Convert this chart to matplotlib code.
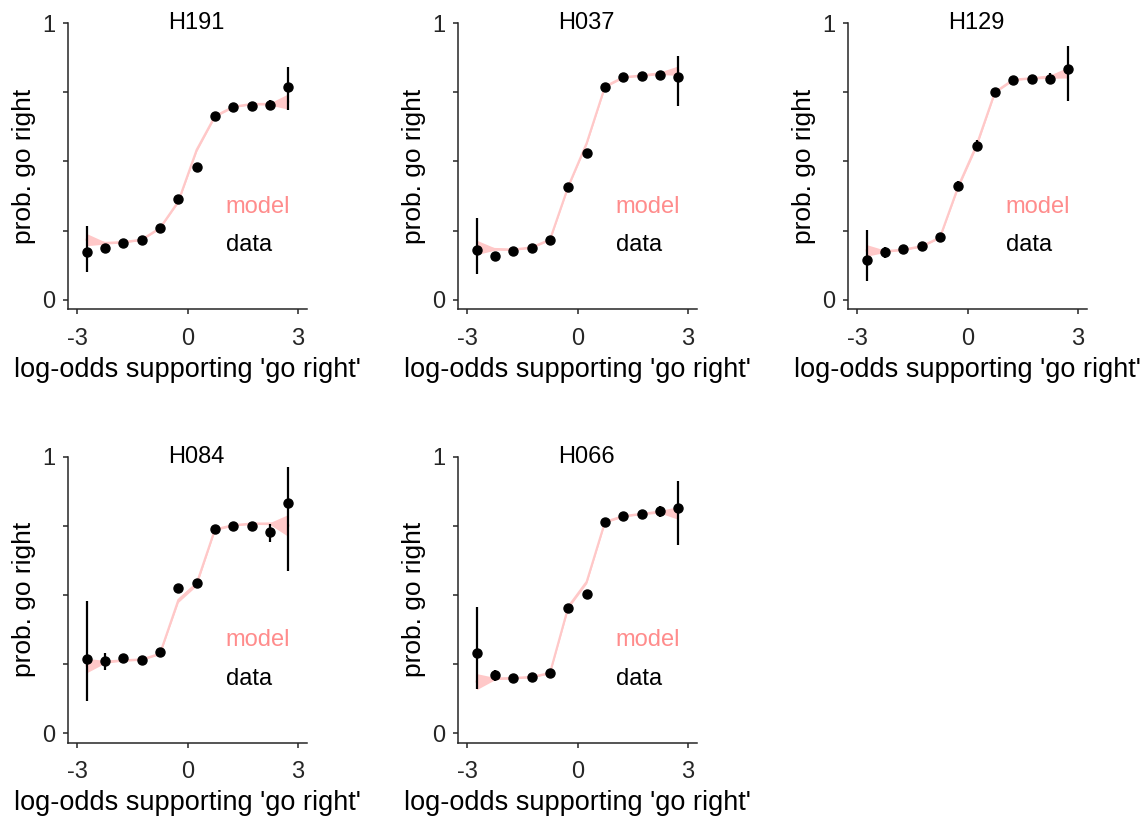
import matplotlib
matplotlib.use("Agg")
import matplotlib.pyplot as plt
import numpy as np

plt.rcParams['font.family'] = ['Liberation Sans', 'DejaVu Sans']

x = [-2.75, -2.25, -1.75, -1.25, -0.75, -0.25, 0.25, 0.75, 1.25, 1.75, 2.25, 2.75]
subjects = ["H191", "H037", "H129", "H084", "H066"]

# data (mean, lower err, upper err)
h191_data = [0.171, 0.187, 0.206, 0.216, 0.259, 0.363, 0.481, 0.664, 0.698, 0.702, 0.706, 0.771]
h191_lo = [0.071, 0.015, 0.008, 0.008, 0.008, 0.012, 0.015, 0.008, 0.008, 0.008, 0.018, 0.084]
h191_hi = [0.094, 0.015, 0.008, 0.008, 0.008, 0.012, 0.015, 0.008, 0.008, 0.008, 0.018, 0.072]
h191_model = [0.217, 0.205, 0.208, 0.217, 0.259, 0.355, 0.542, 0.664, 0.698, 0.708, 0.708, 0.717]
h191_band = [0.022, 0.004, 0.003, 0.003, 0.003, 0.004, 0.006, 0.004, 0.003, 0.003, 0.004, 0.028]

h037_data = [0.178, 0.159, 0.176, 0.186, 0.217, 0.408, 0.530, 0.771, 0.805, 0.811, 0.812, 0.805]
h037_lo = [0.084, 0.015, 0.008, 0.008, 0.008, 0.010, 0.015, 0.008, 0.008, 0.008, 0.015, 0.103]
h037_hi = [0.117, 0.015, 0.008, 0.008, 0.008, 0.010, 0.015, 0.008, 0.008, 0.008, 0.015, 0.078]
h037_model = [0.189, 0.183, 0.181, 0.189, 0.217, 0.410, 0.566, 0.771, 0.805, 0.811, 0.819, 0.829]
h037_band = [0.026, 0.004, 0.003, 0.003, 0.003, 0.004, 0.005, 0.004, 0.003, 0.003, 0.005, 0.017]

h129_data = [0.142, 0.172, 0.182, 0.193, 0.225, 0.413, 0.557, 0.751, 0.796, 0.799, 0.799, 0.836]
h129_lo = [0.076, 0.020, 0.008, 0.008, 0.008, 0.015, 0.020, 0.008, 0.008, 0.008, 0.020, 0.116]
h129_hi = [0.109, 0.020, 0.008, 0.008, 0.008, 0.015, 0.020, 0.008, 0.008, 0.008, 0.020, 0.082]
h129_model = [0.178, 0.175, 0.181, 0.193, 0.225, 0.410, 0.560, 0.751, 0.796, 0.801, 0.807, 0.822]
h129_band = [0.021, 0.004, 0.003, 0.003, 0.003, 0.006, 0.008, 0.004, 0.003, 0.003, 0.006, 0.020]

h084_data = [0.268, 0.261, 0.270, 0.266, 0.293, 0.525, 0.543, 0.737, 0.751, 0.751, 0.726, 0.832]
h084_lo = [0.152, 0.032, 0.008, 0.008, 0.008, 0.010, 0.010, 0.008, 0.008, 0.008, 0.034, 0.246]
h084_hi = [0.208, 0.030, 0.008, 0.008, 0.008, 0.010, 0.010, 0.008, 0.008, 0.008, 0.032, 0.132]
h084_model = [0.244, 0.258, 0.263, 0.266, 0.287, 0.481, 0.541, 0.737, 0.752, 0.758, 0.758, 0.751]
h084_band = [0.026, 0.005, 0.003, 0.003, 0.003, 0.008, 0.008, 0.004, 0.003, 0.003, 0.004, 0.040]

h066_data = [0.291, 0.209, 0.199, 0.202, 0.217, 0.453, 0.504, 0.764, 0.785, 0.793, 0.803, 0.815]
h066_lo = [0.130, 0.020, 0.008, 0.008, 0.008, 0.010, 0.010, 0.008, 0.008, 0.008, 0.020, 0.135]
h066_hi = [0.166, 0.020, 0.008, 0.008, 0.008, 0.010, 0.010, 0.008, 0.008, 0.008, 0.020, 0.097]
h066_model = [0.186, 0.197, 0.199, 0.203, 0.217, 0.457, 0.547, 0.764, 0.785, 0.793, 0.801, 0.796]
h066_band = [0.029, 0.004, 0.003, 0.003, 0.003, 0.006, 0.006, 0.004, 0.003, 0.003, 0.005, 0.023]

all_data = [h191_data, h037_data, h129_data, h084_data, h066_data]
all_lo = [h191_lo, h037_lo, h129_lo, h084_lo, h066_lo]
all_hi = [h191_hi, h037_hi, h129_hi, h084_hi, h066_hi]
all_model = [h191_model, h037_model, h129_model, h084_model, h066_model]
all_band = [h191_band, h037_band, h129_band, h084_band, h066_band]

W, H = 1145, 819
fig = plt.figure(figsize=(W / 100, H / 100), dpi=100)

lefts_px = [68.3, 458.3, 848.3]
tops_px = [23.3, 456.7]
ax_w_px = 238.4
ax_h_px = 286.0

axis_col = '#262626'
band_col = '#FFC8C8'
model_txt_col = '#FF8C8C'

for i, name in enumerate(subjects):
    r, c = divmod(i, 3)
    left = lefts_px[c] / W
    bottom = 1 - (tops_px[r] + ax_h_px) / H
    ax = fig.add_axes([left, bottom, ax_w_px / W, ax_h_px / H])
    m = np.array(all_model[i])
    b = np.array(all_band[i])
    ax.fill_between(x, m - b, m + b, color=band_col, lw=0, zorder=1)
    ax.plot(x, m, color=band_col, lw=1.6, zorder=2)
    ax.errorbar(x, all_data[i], yerr=[all_lo[i], all_hi[i]], fmt='o', color='k',
                ms=6.5, elinewidth=1.6, capsize=0, zorder=3)
    ax.set_xlim(-3.25, 3.25)
    ax.set_ylim(-0.035, 1.0)
    ax.set_xticks([-3, 0, 3])
    ax.set_xticklabels(['-3', '0', '3'])
    ax.set_yticks([0, 0.25, 0.5, 0.75, 1])
    ax.set_yticklabels(['0', '', '', '', '1'])
    for s in ['top', 'right']:
        ax.spines[s].set_visible(False)
    for s in ['left', 'bottom']:
        ax.spines[s].set_color(axis_col)
        ax.spines[s].set_linewidth(1.1)
    ax.tick_params(direction='out', length=3.5, width=1.1, colors=axis_col,
                   labelsize=17)
    ax.tick_params(axis='x', pad=10)
    ax.tick_params(axis='y', pad=6)
    ax.set_xlabel("log-odds supporting 'go right'", fontsize=19.5, color='k', labelpad=5)
    ax.set_ylabel("prob. go right", fontsize=19, color='k', labelpad=4)
    ax.text(0.25, 1.0, name, fontsize=17, ha='center', va='center', color='k', clip_on=False)
    ax.text(1.04, 0.337, 'model', fontsize=17, color=model_txt_col, ha='left', va='center')
    ax.text(1.04, 0.196, 'data', fontsize=17, color='k', ha='left', va='center')

fig.savefig('out.png', dpi=100)
